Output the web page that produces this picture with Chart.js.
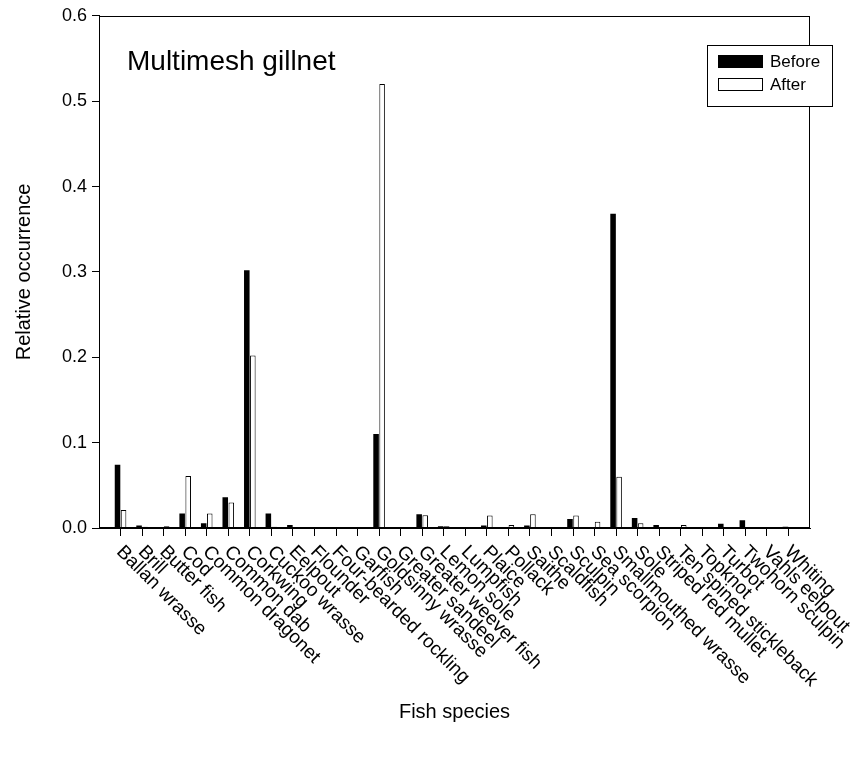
<!DOCTYPE html>
<html>
<head>
<meta charset="utf-8">
<script src="https://cdn.jsdelivr.net/npm/chart.js@4"></script>
<style>
  html, body { margin: 0; padding: 0; background: #fff; }
  #wrap { width: 861px; height: 758px; }
</style>
</head>
<body>
<div id="wrap"><canvas id="fishChart" width="861" height="758"></canvas></div>
<script>
const species = [
    'Ballan wrasse', 'Brill', 'Butter fish', 'Cod', 'Common dragonet', 'Common dab',
    'Corkwing', 'Cuckoo wrasse', 'Eelpout', 'Flounder', 'Four-bearded rockling', 'Garfish',
    'Goldsinny wrasse', 'Greater sandeel', 'Greater weever fish', 'Lemon sole', 'Lumpfish',
    'Plaice', 'Pollack', 'Saithe', 'Scaldfish', 'Sculpin', 'Sea scorpion',
    'Smallmouthed wrasse', 'Sole', 'Striped red mullet', 'Ten spined stickleback', 'Topknot',
    'Turbot', 'Twohorn sculpin', 'Vahls eelpout', 'Whiting'
];
const before = [
    0.074, 0.003, 0, 0.017, 0.0055, 0.036,
    0.302, 0.017, 0.0035, 0, 0, 0,
    0.110, 0, 0.016, 0.002, 0,
    0.003, 0, 0.003, 0, 0.0105, 0,
    0.368, 0.0117, 0.0035, 0, 0,
    0.005, 0.009, 0, 0.0015
];
const after = [
    0.021, 0.0015, 0.002, 0.061, 0.017, 0.030,
    0.202, 0.0015, 0, 0, 0, 0,
    0.520, 0, 0.015, 0.002, 0,
    0.0145, 0.0035, 0.016, 0, 0.0145, 0.0074,
    0.060, 0.0055, 0, 0.0035, 0,
    0, 0, 0, 0
];
const yTicks = [0, 0.1, 0.2, 0.3, 0.4, 0.5, 0.6];

const FONT = "'Liberation Sans', Arial, sans-serif";

// box round the plot area (top and right sides)
const frame = {
    id: 'frame',
    afterDraw(chart) {
        const {ctx, chartArea: a} = chart;
        ctx.save();
        ctx.strokeStyle = '#000';
        ctx.lineWidth = 1;
        ctx.strokeRect(Math.round(a.left) + 0.5, Math.round(a.top) + 0.5,
            Math.round(a.right - a.left) - 1, Math.round(a.bottom - a.top) - 1);
        ctx.restore();
    }
};

// slanted species names, reading down to the right from each tick
const slantLabels = {
    id: 'slantLabels',
    afterDraw(chart) {
        const {ctx} = chart;
        const xs = chart.scales.x;
        ctx.save();
        ctx.fillStyle = '#000';
        ctx.font = '19px ' + FONT;
        ctx.textAlign = 'left';
        ctx.textBaseline = 'middle';
        species.forEach((name, i) => {
            const x = xs.getPixelForValue(i);
            ctx.save();
            ctx.translate(x - 1, chart.chartArea.bottom + 21);
            ctx.rotate(Math.PI / 4);
            ctx.fillText(name, 0, 0);
            ctx.restore();
        });
        ctx.restore();
    }
};

// in-plot title and framed legend
const annotations = {
    id: 'annotations',
    afterDraw(chart) {
        const {ctx} = chart;
        ctx.save();
        ctx.fillStyle = '#000';
        ctx.font = '28px ' + FONT;
        ctx.textAlign = 'left';
        ctx.textBaseline = 'alphabetic';
        ctx.fillText('Multimesh gillnet', 127, 70);

        ctx.fillStyle = '#fff';
        ctx.fillRect(707, 45, 125, 61);
        ctx.strokeStyle = '#000';
        ctx.lineWidth = 1;
        ctx.strokeRect(707.5, 45.5, 125, 61);

        ctx.font = '17px ' + FONT;
        ctx.textBaseline = 'middle';
        chart.data.datasets.forEach((ds, i) => {
            const y = 55 + i * 23;
            ctx.fillStyle = ds.backgroundColor;
            ctx.fillRect(718, y, 45, 13);
            if (ds.borderWidth) {
                ctx.strokeStyle = ds.borderColor;
                ctx.strokeRect(718.5, y + 0.5, 44, 12);
            }
            ctx.fillStyle = '#000';
            ctx.fillText(ds.label, 770, y + 7);
        });
        ctx.restore();
    }
};

const ctx = document.getElementById('fishChart').getContext('2d');
new Chart(ctx, {
    type: 'bar',
    data: {
        datasets: [{
            label: 'Before',
            data: before.map((v, i) => ({x: i, y: v})),
            backgroundColor: '#000000',
            borderWidth: 0,
            categoryPercentage: 0.56,
            barPercentage: 0.92
        }, {
            label: 'After',
            data: after.map((v, i) => ({x: i, y: v})),
            backgroundColor: '#ffffff',
            borderColor: '#000000',
            borderWidth: 1,
            categoryPercentage: 0.56,
            barPercentage: 0.92
        }]
    },
    options: {
        responsive: false,
        animation: false,
        devicePixelRatio: 1,
        layout: { padding: { top: 15, right: 51, bottom: 0, left: 0 } },
        scales: {
            x: {
                type: 'linear',
                offset: false,
                min: -1,
                max: species.length,
                afterBuildTicks: s => { s.ticks = species.map((_, i) => ({value: i})); },
                afterFit: s => { s.height = 230; },
                ticks: { display: false },
                grid: { offset: false, drawOnChartArea: false, drawTicks: true, tickLength: 8, color: '#000', lineWidth: 1 },
                border: { display: true, color: '#000', width: 1 },
                title: {
                    display: true,
                    text: 'Fish species',
                    color: '#000',
                    font: { family: FONT, size: 20 },
                    padding: { top: 0, bottom: 34 }
                }
            },
            y: {
                min: 0,
                max: 0.6,
                afterBuildTicks: s => { s.ticks = yTicks.map(v => ({value: v})); },
                afterFit: s => { s.width = 99; },
                ticks: {
                    color: '#000',
                    padding: 5,
                    font: { family: FONT, size: 18 },
                    callback: v => v.toFixed(1)
                },
                grid: { drawOnChartArea: false, drawTicks: true, tickLength: 7, color: '#000', lineWidth: 1 },
                border: { display: true, color: '#000', width: 1 },
                title: {
                    display: true,
                    text: 'Relative occurrence',
                    color: '#000',
                    font: { family: FONT, size: 20 },
                    padding: { top: 12, bottom: 0 }
                }
            }
        },
        plugins: {
            legend: { display: false },
            tooltip: { enabled: false }
        }
    },
    plugins: [frame, slantLabels, annotations]
});
</script>
</body>
</html>
